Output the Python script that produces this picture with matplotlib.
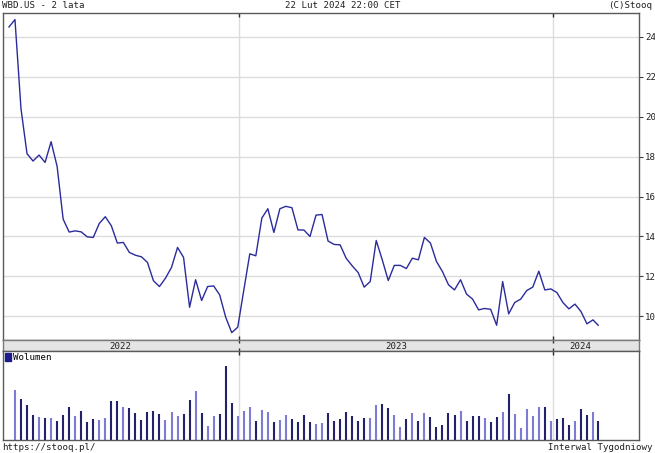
import pandas as pd
import matplotlib
matplotlib.use('Agg')
import matplotlib.pyplot as plt
from matplotlib.patches import Patch

# weekly closes, WBD.US
dates = list(pd.date_range('2022-04-08', '2024-02-16', freq='W-FRI')) + [pd.Timestamp('2024-02-22')]
close = [24.50, 24.87, 20.40, 18.15, 17.78, 18.08, 17.71, 18.75, 17.51, 14.87,
         14.22, 14.28, 14.23, 13.98, 13.95, 14.65, 14.99, 14.54, 13.67, 13.70,
         13.20, 13.06, 12.98, 12.70, 11.78, 11.49, 11.91, 12.45, 13.45, 12.95,
         10.45, 11.83, 10.79, 11.49, 11.52, 11.07, 9.95, 9.18, 9.45, 11.30,
         13.13, 13.03, 14.92, 15.39, 14.20, 15.39, 15.51, 15.44, 14.33, 14.32,
         14.00, 15.07, 15.10, 13.77, 13.60, 13.58, 12.91, 12.53, 12.19, 11.46,
         11.74, 13.80, 12.83, 11.79, 12.55, 12.55, 12.39, 12.91, 12.83, 13.95,
         13.67, 12.75, 12.24, 11.58, 11.32, 11.83, 11.11, 10.86, 10.32, 10.39,
         10.35, 9.55, 11.74, 10.12, 10.69, 10.86, 11.29, 11.46, 12.26, 11.32,
         11.37, 11.19, 10.69, 10.37, 10.61, 10.24, 9.62, 9.82, 9.55]

# volume (relative units), no bar for the first week
vol_dates = dates[1:]
volume = [148, 121, 104, 75, 67, 65, 65, 55, 74, 97, 70, 87, 53, 62, 59, 64, 116, 116,
          98, 94, 80, 59, 84, 86, 77, 59, 84, 72, 77, 118, 146, 80, 41, 70, 78,
          220, 110, 70, 87, 98, 55, 89, 82, 52, 60, 74, 61, 52, 74, 52, 46, 49, 79,
          55, 62, 84, 71, 56, 66, 66, 104, 107, 94, 74, 39, 62, 79, 55, 79, 67,
          39, 44, 79, 74, 87, 55, 71, 71, 64, 52, 69, 82, 138, 76, 34, 93, 71, 98,
          98, 55, 62, 66, 44, 56, 91, 74, 83, 56]

year_lines = [pd.Timestamp('2023-01-01'), pd.Timestamp('2024-01-01')]
year_labels = ['2022', '2023', '2024']
year_label_pos = [pd.Timestamp('2022-08-16'), pd.Timestamp('2023-07-02'), pd.Timestamp('2024-02-01')]

W, H = 655, 453
LINE = '#2b2b9c'
DARK = '#22226a'
LIGHT = '#7c7cd4'
GRID = '#dcdcdc'
EDGE = '#5a5a5a'
MONO = 'DejaVu Sans Mono'
FS = 6.6

def rect(x0, y0, x1, y1):
    return [x0 / W, 1 - y1 / H, (x1 - x0) / W, (y1 - y0) / H]

xmin = dates[0] - pd.Timedelta(days=7.5)
xmax = dates[0] + pd.Timedelta(days=732.5)

fig = plt.figure(figsize=(W / 100, H / 100), dpi=100)
fig.patch.set_facecolor('white')

# price panel
ax = fig.add_axes(rect(2.5, 13, 639, 340))
ax.plot(dates, close, color=LINE, lw=1.0)
ax.set_xlim(xmin, xmax)
ax.set_ylim(8.81, 25.2)
ax.set_yticks(range(10, 25, 2))
ax.yaxis.tick_right()
ax.tick_params(axis='y', direction='out', length=3, width=0.8, color='#404040',
               labelsize=FS, pad=1.5, labelcolor='#202020')
for lab in ax.get_yticklabels():
    lab.set_fontfamily(MONO)
ax.set_xticks(year_lines)
ax.tick_params(axis='x', direction='in', length=3, width=1, color='#303030',
               top=True, bottom=True, labelbottom=False)
ax.grid(axis='y', color=GRID, lw=1)
for d in year_lines:
    ax.axvline(d, color=GRID, lw=1, zorder=0)
for s in ax.spines.values():
    s.set_color(EDGE)
    s.set_linewidth(1)

# date band
band = fig.add_axes(rect(2.5, 340, 639, 351))
band.set_facecolor('#e4e4e4')
band.set_xlim(xmin, xmax)
band.set_ylim(0, 1)
band.set_yticks([])
band.set_xticks(year_lines)
band.tick_params(axis='x', direction='in', length=2, width=1, color='#303030',
                 top=True, bottom=True, labelbottom=False)
for lab, pos in zip(year_labels, year_label_pos):
    band.text(pos, 0.45, lab, ha='center', va='center', fontsize=FS,
              family=MONO, color='#202020')
for s in band.spines.values():
    s.set_color('#7a7a7a')
    s.set_linewidth(1)

# volume panel
vax = fig.add_axes(rect(2.5, 351, 639, 439.5))
vcolors = [DARK if c < p else LIGHT for p, c in zip(close[:-1], close[1:])]
vax.vlines(vol_dates, 0, volume, colors=vcolors, linewidth=1.5, snap=True)
vax.set_xlim(xmin, xmax)
vax.set_ylim(0, 266)
vax.set_yticks([])
vax.set_xticks(year_lines)
vax.tick_params(axis='x', direction='in', length=3, width=1, color='#303030',
                top=True, bottom=False, labelbottom=False)
for d in year_lines:
    vax.axvline(d, color=GRID, lw=1, zorder=0)
for s in vax.spines.values():
    s.set_color(EDGE)
    s.set_linewidth(1)
vax.legend(handles=[Patch(color='#1c1c8c', label='Wolumen')], loc='upper left',
           frameon=False, handlelength=0.7, handleheight=0.9, handletextpad=0.2,
           borderaxespad=0.15, borderpad=0.1, prop={'family': MONO, 'size': FS})

# header / footer
fig.text(2 / W, 1 - 5.5 / H, 'WBD.US - 2 lata', ha='left', va='center',
         fontsize=FS, family=MONO, color='#202020')
fig.text(343 / W, 1 - 5.5 / H, '22 Lut 2024 22:00 CET', ha='center', va='center',
         fontsize=FS, family=MONO, color='#202020')
fig.text(652 / W, 1 - 5.5 / H, '(C)Stooq', ha='right', va='center',
         fontsize=FS, family=MONO, color='#202020')
fig.text(2 / W, 1 - 447 / H, 'https://stooq.pl/', ha='left', va='center',
         fontsize=FS, family=MONO, color='#202020')
fig.text(652 / W, 1 - 447 / H, 'Interwal Tygodniowy', ha='right', va='center',
         fontsize=FS, family=MONO, color='#202020')

fig.savefig('out.png', dpi=100, facecolor='white')
